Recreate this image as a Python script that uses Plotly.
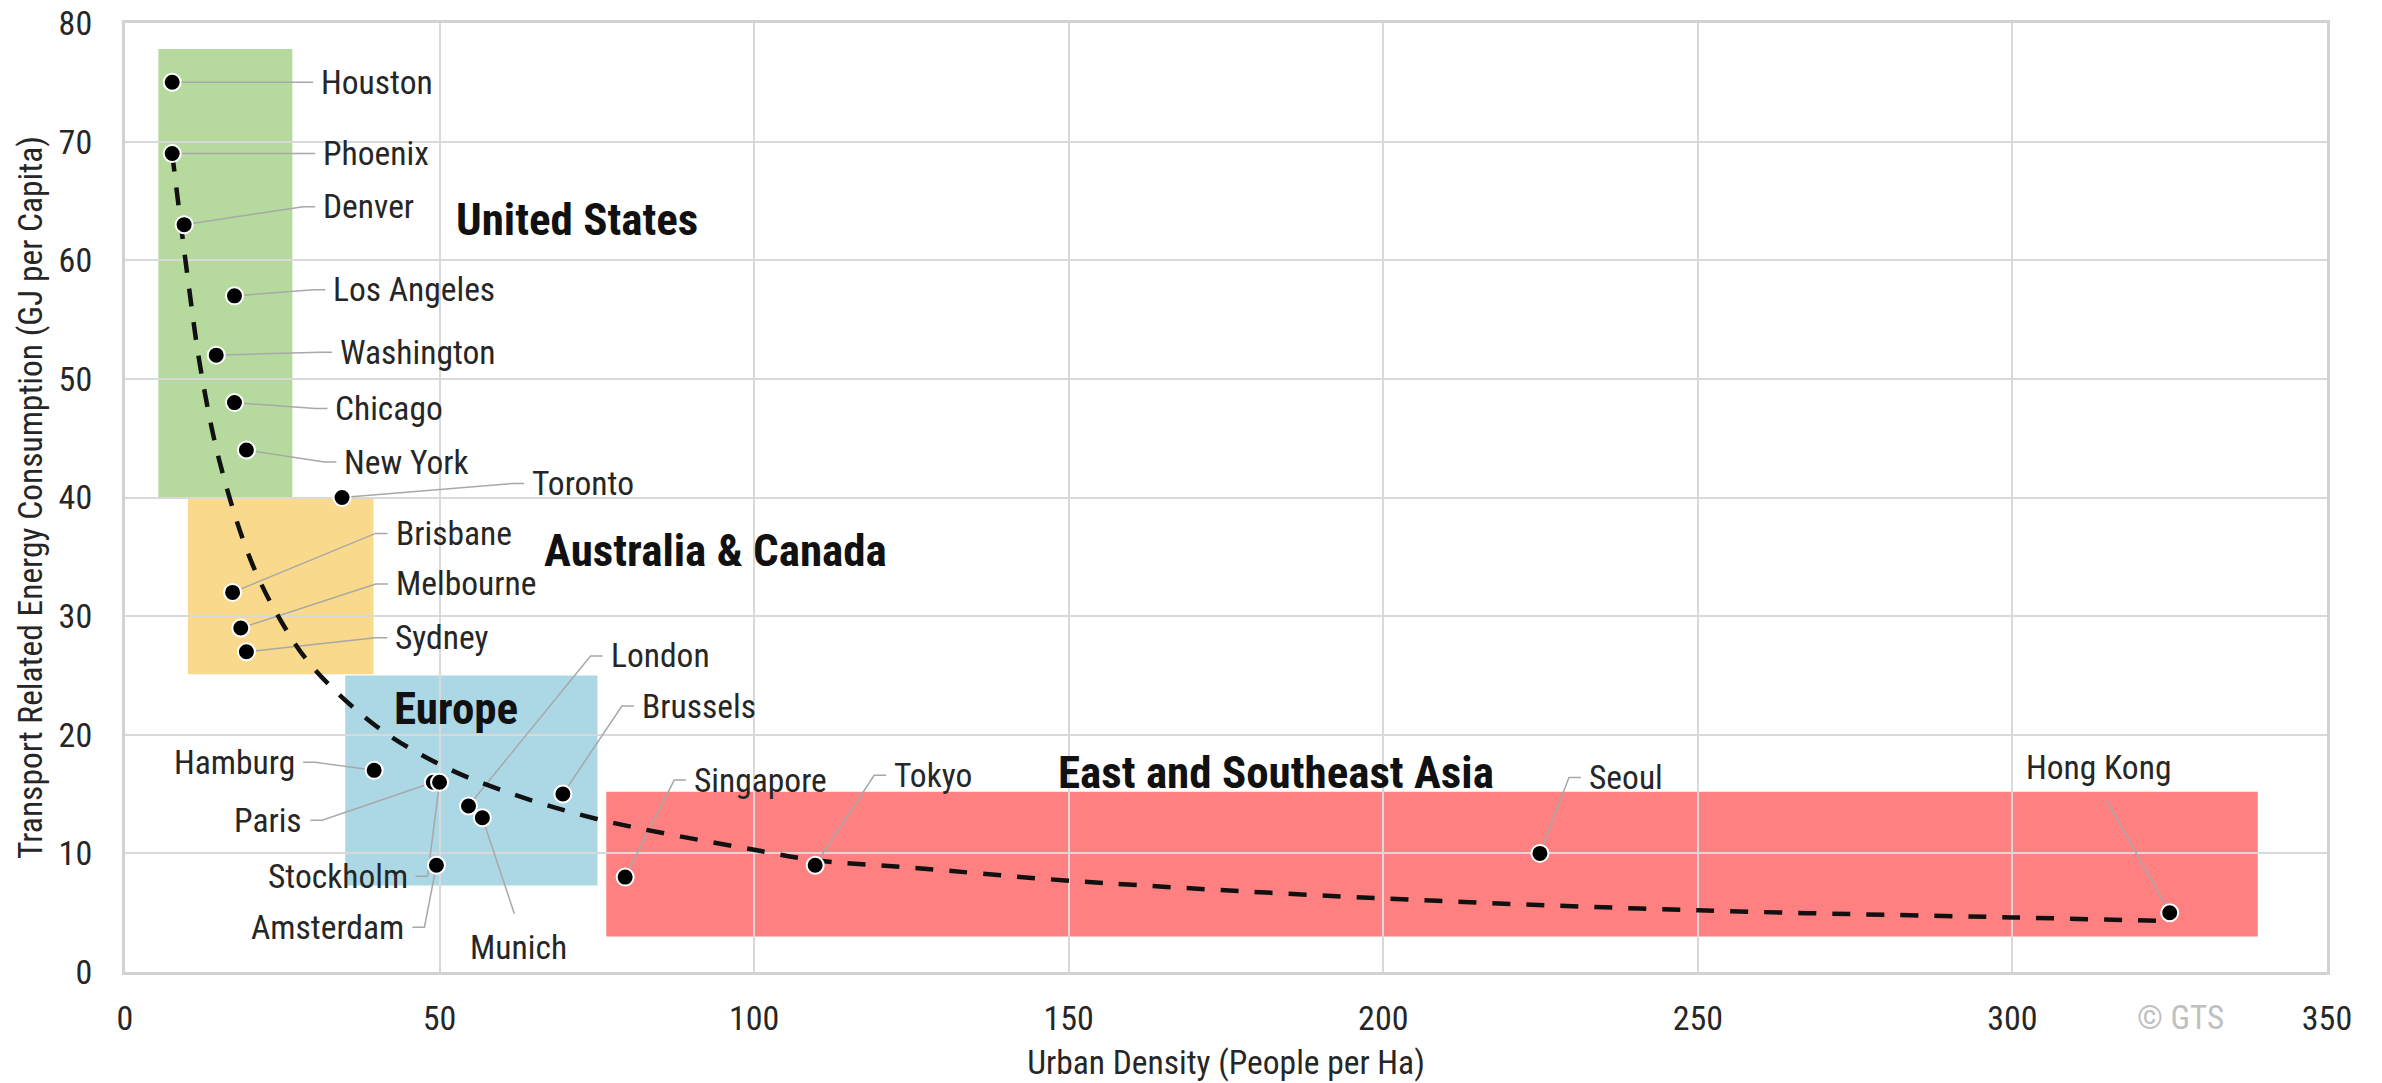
import plotly.graph_objects as go

# ---------------- data ----------------
cities = ["Houston", "Phoenix", "Denver", "Los Angeles", "Washington", "Chicago",
          "New York", "Toronto", "Brisbane", "Melbourne", "Sydney", "Hamburg",
          "Paris", "Stockholm", "Amsterdam", "Munich", "London", "Brussels",
          "Singapore", "Tokyo", "Seoul", "Hong Kong"]
density = [7.5, 7.5, 9.4, 17.4, 14.5, 17.4, 19.3, 34.5, 17.1, 18.4, 19.3, 39.6,
           49.0, 50.0, 49.5, 56.8, 54.6, 69.6, 79.5, 109.7, 224.9, 325.0]
energy = [75, 69, 63, 57, 52, 48, 44, 40, 32, 29, 27, 17,
          16, 16, 9, 13, 14, 15, 8, 9, 10, 5]

trend_x = [7.5, 10, 12, 15, 20, 25, 30, 40, 50, 60, 75, 100, 110, 125, 150, 200, 250, 300, 325]
trend_y = [69.0, 58.4, 50.9, 43.1, 34.7, 29.4, 25.6, 20.7, 17.5, 15.3, 12.9, 10.3, 9.4, 8.8, 7.7, 6.2, 5.2, 4.6, 4.3]

regions = ["United States", "Australia & Canada", "Europe", "East and Southeast Asia"]
region_x0 = [5.3, 10.0, 35.0, 76.5]
region_x1 = [26.6, 39.5, 75.1, 339.0]
region_y0 = [40.0, 25.1, 7.3, 3.0]
region_y1 = [77.8, 40.0, 25.0, 15.2]
region_label_x = [52.3, 66.3, 42.4, 148.0]
region_label_y = [63.4, 35.5, 22.2, 16.8]

x_ticks = [0, 50, 100, 150, 200, 250, 300, 350]
y_ticks = [0, 10, 20, 30, 40, 50, 60, 70, 80]

# ---------------- styling / label placement (pixels) ----------------
region_colors = ["#b6da9e", "#f9d98b", "#acd8e6", "#fe8080"]
# (dx, dy, side) : label anchor offset from point in px, dy positive = up
label_pos = {
    "Houston": (147, 0, "r"), "Phoenix": (149, 0, "r"), "Denver": (137, 18, "r"),
    "Los Angeles": (97, 6, "r"), "Washington": (122, 3, "r"), "Chicago": (99, -6, "r"),
    "New York": (96, -12, "r"), "Toronto": (188, 14, "r"), "Brisbane": (161, 59, "r"),
    "Melbourne": (153, 44, "r"), "Sydney": (147, 14, "r"), "Hamburg": (-77, 8, "l"),
    "Paris": (-129, -38, "l"), "Stockholm": (-30, -94, "l"), "Amsterdam": (-30, -62, "l"),
    "Munich": (36, -108, "b"), "London": (140, 150, "r"), "Brussels": (77, 88, "r"),
    "Singapore": (67, 97, "r"), "Tokyo": (77, 90, "r"), "Seoul": (47, 76, "r"),
    "Hong Kong": (-71, 124, "t"),
}

FONT = "Roboto Condensed, Liberation Sans Narrow, Arial Narrow, Liberation Sans, sans-serif"
TXT = "#262626"
FS = 33.5

W, H = 2382, 1083
# body margin is removed in the page, so the plot area sits at 125..2327 x 23..972
ML, MR, MT, MB = 125, 55, 23, 111

fig = go.Figure()

shapes = []
for x0, x1, y0, y1, c in zip(region_x0, region_x1, region_y0, region_y1, region_colors):
    shapes.append(dict(type="rect", xref="x", yref="y", x0=x0, x1=x1, y0=y0, y1=y1,
                       fillcolor=c, line=dict(width=0), layer="below"))

annotations = []
for name, xv, yv in zip(cities, density, energy):
    dx, dy, side = label_pos[name]
    if side == "r":
        path = f"M 0 0 L {dx-18} {dy} L {dx-6} {dy}"
        ann = dict(xanchor="left", yanchor="middle", xshift=dx, yshift=dy)
    elif side == "l":
        path = f"M 0 0 L {dx+18} {dy} L {dx+6} {dy}"
        ann = dict(xanchor="right", yanchor="middle", xshift=dx, yshift=dy)
    elif side == "b":
        path = f"M 0 0 L {dx-4} {dy+12}"
        ann = dict(xanchor="center", yanchor="top", xshift=dx, yshift=dy)
    else:
        path = f"M 0 0 L {dx+8} {dy-12}"
        ann = dict(xanchor="center", yanchor="bottom", xshift=dx, yshift=dy)
    shapes.append(dict(type="path", xref="x", yref="y", xsizemode="pixel", ysizemode="pixel",
                       xanchor=xv, yanchor=yv, path=path,
                       line=dict(color="#a8a8a8", width=1.5), layer="between"))
    annotations.append(dict(x=xv, y=yv, xref="x", yref="y", text=name, showarrow=False,
                            font=dict(family=FONT, size=FS, color=TXT), **ann))

for name, lx, ly in zip(regions, region_label_x, region_label_y):
    annotations.append(dict(x=lx, y=ly, xref="x", yref="y", text=f"<b>{name}</b>",
                            showarrow=False, xanchor="left", yanchor="middle",
                            font=dict(family=FONT, size=45, color="#111111")))

annotations.append(dict(x=(2180 - ML) / (W - ML - MR), y=(H - MB - 1017) / (H - MT - MB),
                        xref="paper", yref="paper", text="© GTS", showarrow=False,
                        xanchor="center", yanchor="middle",
                        font=dict(family=FONT, size=33, color="#c0c0c0")))

fig.add_trace(go.Scatter(x=trend_x, y=trend_y, mode="lines", line_shape="spline",
                         line=dict(color="#111111", width=4.5, dash="18px,16px"),
                         hoverinfo="skip", showlegend=False))
fig.add_trace(go.Scatter(x=density, y=energy, mode="markers", text=cities,
                         marker=dict(color="black", size=17, line=dict(color="white", width=2)),
                         showlegend=False))

fig.update_layout(
    width=W, height=H,
    margin=dict(l=ML, r=MR, t=MT, b=MB),
    paper_bgcolor="white", plot_bgcolor="white",
    shapes=shapes, annotations=annotations,
    font=dict(family=FONT, size=FS, color=TXT),
    showlegend=False,
)
fig.update_xaxes(range=[0, 350], tickvals=x_ticks, showgrid=True, gridcolor="#d9d9d9", gridwidth=2,
                 showline=True, mirror=True, linecolor="#d2d2d2", linewidth=3, zeroline=False,
                 automargin=False, ticklabeloverflow="allow",
                 ticks="", ticklabelstandoff=14, tickfont=dict(size=34, color=TXT),
                 title=dict(text="Urban Density (People per Ha)", standoff=14,
                            font=dict(size=33.5, color=TXT)))
fig.update_yaxes(range=[0, 80], tickvals=y_ticks, showgrid=True, gridcolor="#d9d9d9", gridwidth=2,
                 showline=True, mirror=True, linecolor="#d2d2d2", linewidth=3, zeroline=False,
                 automargin=False, ticklabeloverflow="allow",
                 ticks="", ticklabelstandoff=23, tickfont=dict(size=34, color=TXT),
                 title=dict(text="Transport Related Energy Consumption (GJ per Capita)", standoff=6,
                            font=dict(size=33.5, color=TXT)))

fig.write_html("out.html", config={"displayModeBar": False},
               post_script="document.body.style.margin='0';")
